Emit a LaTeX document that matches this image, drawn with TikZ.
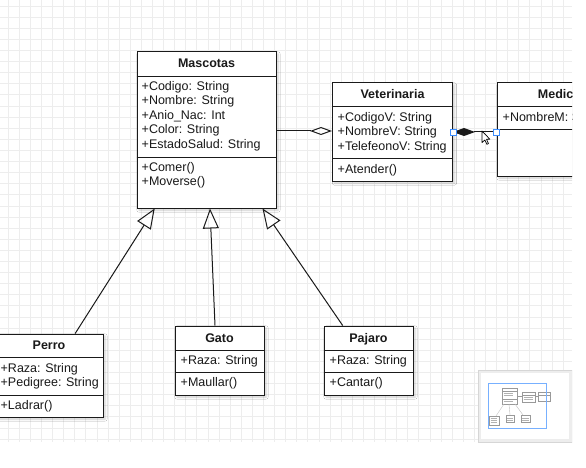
\documentclass[tikz,border=0pt]{standalone}
\usepackage{fontspec}
\setmainfont{Liberation Sans}
\usetikzlibrary{arrows.meta,calc,shadows.blur}
\definecolor{selblue}{HTML}{3D8EFF}
\definecolor{linecol}{HTML}{1A1A1A}
\begin{document}
\begin{tikzpicture}[x=1pt,y=-1pt,
  gridline/.style={draw=black!7, line width=0.6pt},
  classbox/.style={draw=linecol, line width=1pt, fill=white, inner sep=0pt,
    blur shadow={shadow blur steps=4, shadow xshift=2pt, shadow yshift=-2pt, shadow opacity=20, shadow blur extra rounding=0pt}},
  sepline/.style={draw=linecol, line width=1pt},
  txt/.style={anchor=west, inner sep=0pt, text=black!90, font=\fontsize{12.5}{14}\selectfont, text height=9pt, text depth=2.5pt},
  ttl/.style={inner sep=0pt, text=black!90, font=\bfseries\fontsize{12.5}{14}\selectfont, text height=9pt, text depth=2.5pt},
  gen/.style={draw=linecol, line width=1pt, -{Triangle[open, length=20pt, width=16pt, line width=1pt]}},
  agg/.style={draw=linecol, line width=1pt, -{Diamond[open, length=22pt, width=8pt, line width=1pt]}},
  comp/.style={draw=linecol, line width=1pt, {Diamond[length=22pt, width=8pt]}-},
  handle/.style={draw=selblue, fill=white, line width=0.8pt, minimum size=6pt, inner sep=0pt},
]
\useasboundingbox (0,0) rectangle (586,468);
\fill[white] (0,0) rectangle (586,468);
\begin{scope}
\clip (0,0) rectangle (572,442);
% grid
\foreach \i in {8,19.1,...,572} \draw[gridline] (\i,0) -- (\i,442);
\foreach \j in {6,17.1,...,442} \draw[gridline] (0,\j) -- (572,\j);

% ---------- Mascotas
\node[classbox, minimum width=139pt, minimum height=156pt] (mascotas) at (206.5,130) {};
\draw[sepline] ($(mascotas.north west)+(0,25)$) -- ($(mascotas.north east)+(0,25)$);
\draw[sepline] ($(mascotas.north west)+(0,106)$) -- ($(mascotas.north east)+(0,106)$);
\node[ttl] (mt) at (206.5,64.5) {Mascotas};
\node[txt] (ma1) at (141.5,87) {+Codigo: String};
\node[txt] (ma2) at (141.5,101.5) {+Nombre: String};
\node[txt] (ma3) at (141.5,116) {+Anio\_Nac: Int};
\node[txt] (ma4) at (141.5,130.5) {+Color: String};
\node[txt] (ma5) at (141.5,145) {+EstadoSalud: String};
\node[txt] (mm1) at (141.5,168.5) {+Comer()};
\node[txt] (mm2) at (141.5,182.5) {+Moverse()};

% ---------- Veterinaria
\node[classbox, minimum width=120pt, minimum height=98pt] (vet) at (392.5,132) {};
\draw[sepline] ($(vet.north west)+(0,24)$) -- ($(vet.north east)+(0,24)$);
\draw[sepline] ($(vet.north west)+(0,76)$) -- ($(vet.north east)+(0,76)$);
\node[ttl] (vt) at (392.5,95.5) {Veterinaria};
\node[txt] (va1) at (337.5,118.5) {+CodigoV: String};
\node[txt] (va2) at (337.5,132.5) {+NombreV: String};
\node[txt] (va3) at (337.5,147) {+TelefeonoV: String};
\node[txt] (vm1) at (337.5,170.5) {+Atender()};

% ---------- Medico (cut off by the canvas edge)
\node[classbox, minimum width=125pt, minimum height=93pt] (medico) at (559.5,129.5) {};
\draw[sepline] ($(medico.north west)+(0,24)$) -- ($(medico.north east)+(0,24)$);
\draw[sepline] ($(medico.north west)+(0,47)$) -- ($(medico.north east)+(0,47)$);
\node[ttl] (met) at (559.5,95.5) {Medico};
\node[txt] (mea1) at (502.5,118.5) {+NombreM: String};

% ---------- Perro
\node[classbox, minimum width=108pt, minimum height=83pt] (perro) at (49,375.5) {};
\draw[sepline] ($(perro.north west)+(0,24)$) -- ($(perro.north east)+(0,24)$);
\draw[sepline] ($(perro.north west)+(0,62)$) -- ($(perro.north east)+(0,62)$);
\node[ttl] (pt) at (49,346.5) {Perro};
\node[txt] (pa1) at (0.5,369) {+Raza: String};
\node[txt] (pa2) at (0.5,383.5) {+Pedigree: String};
\node[txt] (pm1) at (0.5,406.5) {+Ladrar()};

% ---------- Gato
\node[classbox, minimum width=89pt, minimum height=69pt] (gato) at (219.5,360.5) {};
\draw[sepline] ($(gato.north west)+(0,25)$) -- ($(gato.north east)+(0,25)$);
\draw[sepline] ($(gato.north west)+(0,47)$) -- ($(gato.north east)+(0,47)$);
\node[ttl] (gt) at (219.5,339) {Gato};
\node[txt] (ga1) at (180.5,361.5) {+Raza: String};
\node[txt] (gm1) at (180.5,383.5) {+Maullar()};

% ---------- Pajaro
\node[classbox, minimum width=89pt, minimum height=69pt] (pajaro) at (368.5,360.5) {};
\draw[sepline] ($(pajaro.north west)+(0,25)$) -- ($(pajaro.north east)+(0,25)$);
\draw[sepline] ($(pajaro.north west)+(0,47)$) -- ($(pajaro.north east)+(0,47)$);
\node[ttl] (jt) at (368.5,339) {Pajaro};
\node[txt] (ja1) at (329.5,361.5) {+Raza: String};
\node[txt] (jm1) at (329.5,383.5) {+Cantar()};

% ---------- connectors
\draw[gen] ($(perro.north west)!0.74!(perro.north east)$) -- ($(mascotas.south west)!0.13!(mascotas.south east)$);
\draw[gen] ($(gato.north west)!0.45!(gato.north east)$) -- ($(mascotas.south west)!0.525!(mascotas.south east)$);
\draw[gen] ($(pajaro.north west)!0.213!(pajaro.north east)$) -- ($(mascotas.south west)!0.9!(mascotas.south east)$);
\draw[agg] ($(mascotas.east)+(0,1)$) -- ($(vet.west)+(0,-1)$);
\draw[comp] (vet.east) -- (medico.west |- vet.east);
\node[handle] (h1) at (vet.east) {};
\node[handle] (h2) at (medico.west |- vet.east) {};

% cursor
\begin{scope}[shift={(482,131)}, scale=0.72]
\draw[fill=white, draw=black, line width=0.7pt, line join=round]
  (0,0) -- (0,16) -- (4,12.5) -- (6.8,18.5) -- (9,17.5) -- (6.3,11.5) -- (11,11.5) -- cycle;
\end{scope}

% minimap
\draw[draw=black!16, fill=black!7, line width=0.6pt] (478,370) rectangle (572,442);
\fill[white] (481,373) rectangle (569,439);
\begin{scope}[line width=0.4pt, draw=black!40]
\draw[fill=white] (502,388) rectangle (517,404);
\draw (502,391) -- (517,391); \draw (502,399) -- (517,399);
\draw[fill=white] (522,392) rectangle (535,402);
\draw (522,395) -- (535,395);
\draw[fill=white] (538,392) rectangle (550,401);
\draw (538,395) -- (550,395);
\draw[fill=white] (489,416) rectangle (499,425);
\draw[fill=white] (506,415) rectangle (514,422);
\draw[fill=white] (521,415) rectangle (530,422);
\draw[black!25] (496,416) -- (504,404); \draw[black!25] (510,415) -- (509,404); \draw[black!25] (523,415) -- (515,404);
\draw (517,396) -- (522,396); \draw (535,396) -- (538,396);
\foreach \k in {393,395,401} \draw[black!30] (503.5,\k) -- (513,\k);
\foreach \k in {397,399} \draw[black!30] (523.5,\k) -- (533,\k);
\foreach \k in {418,420,422} \draw[black!30] (490.5,\k) -- (497,\k);
\foreach \k in {418,420} {\draw[black!30] (507,\k) -- (513,\k); \draw[black!30] (522,\k) -- (529,\k);}
\end{scope}
\draw[draw=selblue!70, line width=0.9pt] (488,383) rectangle (546,428);
\end{scope}
\end{tikzpicture}
\end{document}
